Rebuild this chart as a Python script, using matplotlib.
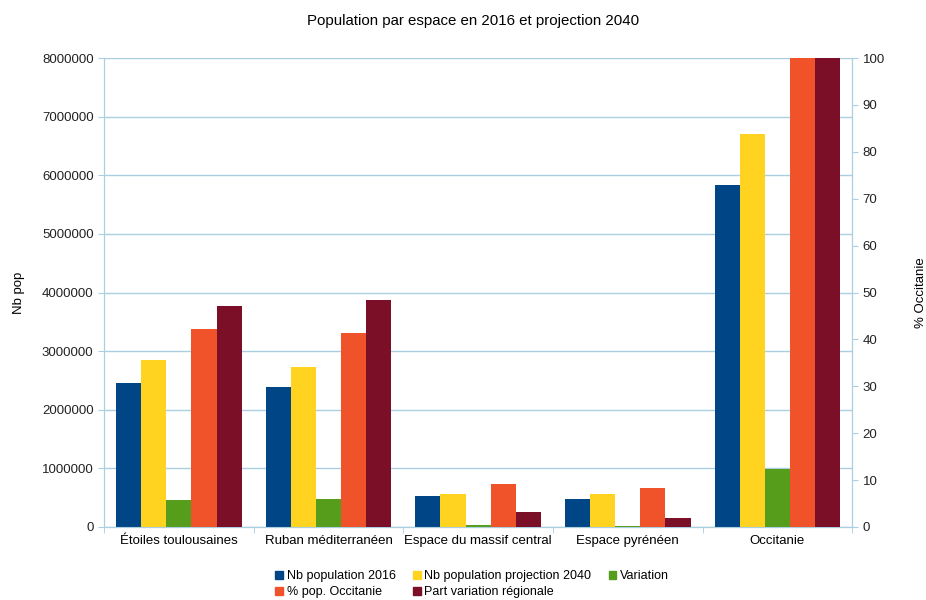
import numpy as np
import matplotlib.pyplot as plt
from matplotlib.patches import Patch
from matplotlib.ticker import FormatStrFormatter

plt.rcParams['font.family'] = ['Liberation Sans', 'DejaVu Sans']

# données
espaces = ["Étoiles toulousaines", "Ruban méditerranéen", "Espace du massif central",
           "Espace pyrénéen", "Occitanie"]
pop_2016 = [2460000, 2390000, 530000, 480000, 5830000]
pop_2040 = [2850000, 2730000, 570000, 570000, 6710000]
variation = [460000, 470000, 30000, 20000, 990000]
pct_occitanie = [42.2, 41.4, 9.2, 8.3, 100]
part_variation = [47.1, 48.4, 3.2, 1.9, 100]

couleurs = ["#004586", "#ffd320", "#579d1c", "#f0532a", "#7a0f27"]
noms = ["Nb population 2016", "Nb population projection 2040", "Variation",
        "% pop. Occitanie", "Part variation régionale"]
grille = "#a9cfe0"

fig = plt.figure(figsize=(9.26, 6), dpi=100)
ax = fig.add_axes([0.1123, 0.1217, 0.808, 0.7816])
ax2 = ax.twinx()

x = np.arange(len(espaces))
w = 0.168
ax.bar(x - 2 * w, pop_2016, w, color=couleurs[0], zorder=3)
ax.bar(x - w, pop_2040, w, color=couleurs[1], zorder=3)
ax.bar(x, variation, w, color=couleurs[2], zorder=3)
ax2.bar(x + w, pct_occitanie, w, color=couleurs[3], zorder=3)
ax2.bar(x + 2 * w, part_variation, w, color=couleurs[4], zorder=3)

ax.set_xlim(-0.5, len(espaces) - 0.5)
ax.set_ylim(0, 8000000)
ax2.set_ylim(0, 100)
ax.set_yticks(np.arange(0, 8000001, 1000000))
ax.yaxis.set_major_formatter(FormatStrFormatter('%d'))
ax2.set_yticks(np.arange(0, 101, 10))
ax.yaxis.grid(True, color=grille, lw=1)
ax.set_axisbelow(True)

ax.set_xticks(x)
ax.set_xticklabels(espaces)
ax.set_xticks(np.arange(-0.5, len(espaces), 1), minor=True)
ax.tick_params(axis='x', which='major', length=0, labelsize=9.5, pad=6)
ax.tick_params(axis='x', which='minor', length=4, color=grille)
ax.tick_params(axis='y', length=4, color=grille, labelsize=9.5, labelcolor="#222222")
ax2.tick_params(axis='y', length=4, color=grille, labelsize=9.5, labelcolor="#222222")

for a in (ax, ax2):
    for s in a.spines.values():
        s.set_color(grille)
    a.spines['top'].set_visible(False)
ax.spines['bottom'].set_color("#b0c4cc")

ax.set_ylabel("Nb pop", fontsize=9.5, labelpad=12)
ax2.set_ylabel("% Occitanie", fontsize=9.5, labelpad=22)
fig.text(0.511, 0.965, "Population par espace en 2016 et projection 2040",
         ha='center', va='center', fontsize=10.8)

# ordre ligne par ligne comme dans la légende d'origine
ordre = [0, 3, 1, 4, 2]
handles = [Patch(color=couleurs[i]) for i in ordre]
fig.legend(handles, [noms[i] for i in ordre], loc='lower center',
           bbox_to_anchor=(0.51, -0.016), ncol=3, frameon=False, fontsize=9,
           handlelength=0.6, handleheight=0.6, handletextpad=0.3,
           columnspacing=1.4, labelspacing=0.35)

fig.savefig("out.png", dpi=100)
